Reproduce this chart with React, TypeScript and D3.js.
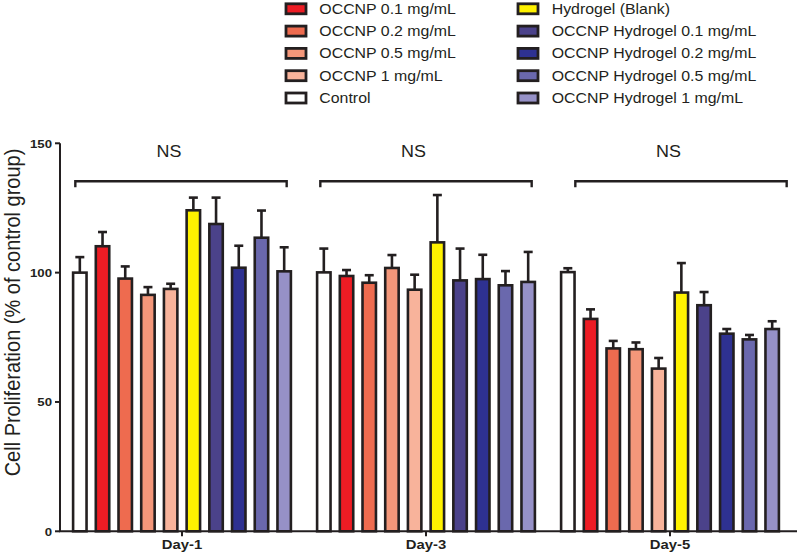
import React from "react";
import * as d3 from "d3";

const days = ["Day-1", "Day-3", "Day-5"];
const groups = [
  "Control",
  "OCCNP 0.1 mg/mL",
  "OCCNP 0.2 mg/mL",
  "OCCNP 0.5 mg/mL",
  "OCCNP 1 mg/mL",
  "Hydrogel (Blank)",
  "OCCNP Hydrogel 0.1 mg/mL",
  "OCCNP Hydrogel 0.2 mg/mL",
  "OCCNP Hydrogel 0.5 mg/mL",
  "OCCNP Hydrogel 1 mg/mL",
];
const colors = [
  "#FFFFFF",
  "#ED1C24",
  "#EE6B4F",
  "#F4977A",
  "#F8B39B",
  "#FFF200",
  "#4B428A",
  "#2E3191",
  "#6A68AD",
  "#9691C7",
];
const day1Means = [100, 110.2, 97.7, 91.4, 93.7, 124.1, 118.8, 101.9, 113.5, 100.5];
const day1Err = [6, 5.5, 4.7, 3, 2, 4.9, 10.2, 8.5, 10.5, 9.3];
const day3Means = [100.1, 98.7, 96.1, 101.8, 93.4, 111.7, 97, 97.5, 95.1, 96.4];
const day3Err = [9.2, 2.3, 2.9, 5, 5.8, 18.3, 12.3, 9.4, 5.5, 11.6];
const day5Means = [100.2, 82.1, 70.7, 70.4, 62.9, 92.3, 87.4, 76.4, 74.2, 78.2];
const day5Err = [1.5, 3.7, 2.9, 2.6, 4.1, 11.4, 5.1, 1.8, 1.7, 3];
const yTicks = [0, 50, 100, 150];
const legendCol1 = [1, 2, 3, 4, 0];
const legendCol2 = [5, 6, 7, 8, 9];
const sigLabels = ["NS", "NS", "NS"];

const means = [day1Means, day3Means, day5Means];
const errs = [day1Err, day3Err, day5Err];

const FONT = "'Liberation Sans', Arial, Helvetica, sans-serif";
const INK = "#231F20";
const SX = 1.14;

export default function App() {
  const y = d3.scaleLinear().domain([0, 150]).range([531.3, 143.3]);
  const x0 = d3.scaleBand<string>().domain(days).range([60, 792]).padding(0);
  const x1 = d3
    .scaleBand<string>()
    .domain(groups)
    .range([0, x0.bandwidth()])
    .paddingInner(0.408)
    .paddingOuter(0.577);
  const bw = x1.bandwidth();
  const bracketShift = [-1, 0, 11];
  const nsShift = [-13, -12.5, -1.5];

  const hText = (
    key: string,
    tx: number,
    ty: number,
    content: string,
    size: number,
    weight: string | number,
    anchor: string,
    sx = SX
  ) => (
    <text
      key={key}
      transform={`translate(${tx},${ty}) scale(${sx},1)`}
      fontFamily={FONT}
      fontSize={size}
      fontWeight={weight}
      textAnchor={anchor}
      fill={INK}
    >
      {content}
    </text>
  );

  return (
    <svg
      width={800}
      height={555}
      style={{ position: "absolute", left: 0, top: 0, background: "#fff" }}
    >
      {/* legend */}
      {[legendCol1, legendCol2].map((col, ci) =>
        col.map((gi, ri) => {
          const sxPos = ci === 0 ? 286 : 518;
          const cy = 8.8 + ri * 22.3;
          return (
            <g key={`lg-${ci}-${ri}`}>
              <rect
                x={sxPos}
                y={cy - 5}
                width={20}
                height={10}
                fill={colors[gi]}
                stroke={INK}
                strokeWidth={2.8}
              />
              {hText(`lt-${ci}-${ri}`, ci === 0 ? 319.3 : 551.7, cy + 5, groups[gi], 14, 400, "start", 1.136)}
            </g>
          );
        })
      )}

      {/* bars */}
      {days.map((day, di) => {
        const gx = x0(day)!;
        return (
          <g key={day}>
            {groups.map((g, gi) => {
              const bx = gx + x1(g)!;
              const cx = bx + bw / 2;
              const m = means[di][gi];
              const e = errs[di][gi];
              return (
                <g key={g}>
                  <line
                    x1={cx}
                    x2={cx}
                    y1={y(m)}
                    y2={y(m + e)}
                    stroke={INK}
                    strokeWidth={2.6}
                  />
                  <line
                    x1={cx - 4.5}
                    x2={cx + 4.5}
                    y1={y(m + e)}
                    y2={y(m + e)}
                    stroke={INK}
                    strokeWidth={2.6}
                  />
                  <rect
                    x={bx}
                    y={y(m)}
                    width={bw}
                    height={y(0) - y(m)}
                    fill={colors[gi]}
                    stroke={INK}
                    strokeWidth={2.6}
                  />
                </g>
              );
            })}
          </g>
        );
      })}

      {/* significance brackets */}
      {days.map((day, di) => {
        const gx = x0(day)!;
        const left = gx + x1(groups[0])! + bw / 2 - 3.5 + bracketShift[di];
        const right = gx + x1(groups[groups.length - 1])! + bw / 2 + 3.5 + bracketShift[di];
        const by = 181.2;
        const center = gx + x0.bandwidth() / 2;
        return (
          <g key={`br-${day}`}>
            <path
              d={`M${left},${by + 6}V${by}H${right}V${by + 6}`}
              fill="none"
              stroke={INK}
              strokeWidth={2.4}
            />
            {hText(`ns-${day}`, center + nsShift[di], 156.7, sigLabels[di], 16.3, 400, "middle", 1.1)}
          </g>
        );
      })}

      {/* y axis */}
      <line x1={60} x2={60} y1={y(150)} y2={y(0)} stroke={INK} strokeWidth={2} />
      {yTicks.map((t) => (
        <g key={`yt-${t}`}>
          <line x1={55} x2={60} y1={y(t)} y2={y(t)} stroke={INK} strokeWidth={2} />
          {hText(`ytl-${t}`, 52, y(t) + 4.3, String(t), 11.5, 700, "end", 1.15)}
        </g>
      ))}
      <text
        transform={`translate(19.5,312.5) scale(1.12,1) rotate(-90)`}
        fontFamily={FONT}
        fontSize={20}
        textAnchor="middle"
        fill={INK}
      >
        Cell Proliferation (% of control group)
      </text>

      {/* x axis */}
      <line x1={59} x2={797} y1={y(0)} y2={y(0)} stroke={INK} strokeWidth={2} />
      {days.map((day) => {
        const cx = x0(day)! + x0.bandwidth() / 2;
        return (
          <g key={`xt-${day}`}>
            <line x1={cx} x2={cx} y1={y(0)} y2={y(0) + 5} stroke={INK} strokeWidth={2} />
            {hText(`xtl-${day}`, cx, 549, day, 13.5, 700, "middle", 1.1)}
          </g>
        );
      })}
    </svg>
  );
}
